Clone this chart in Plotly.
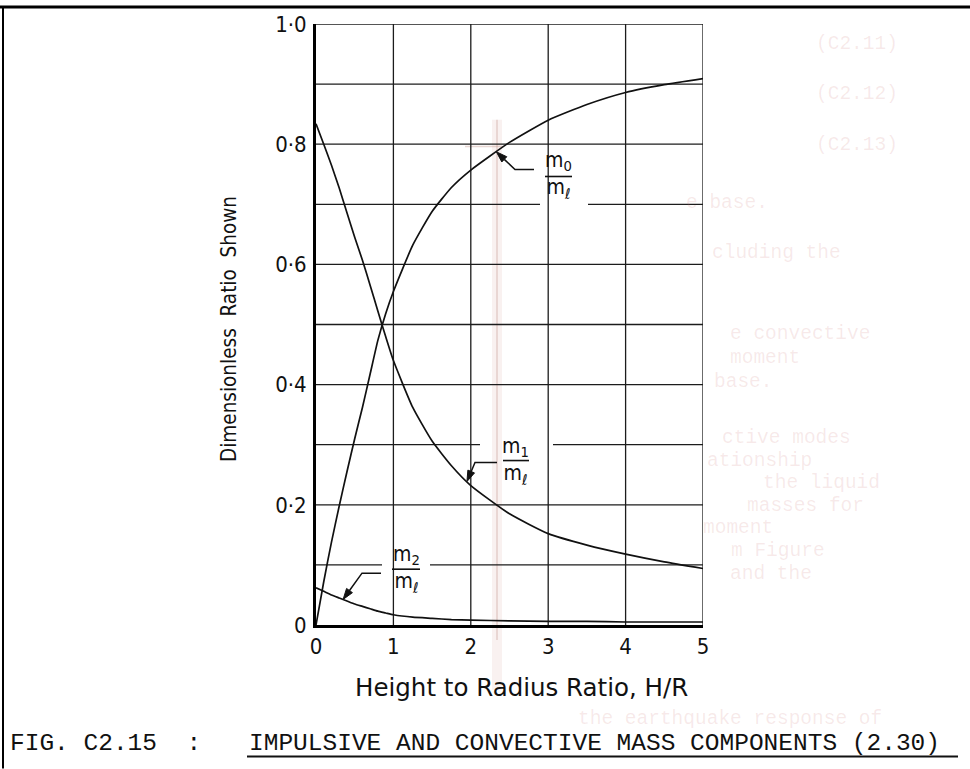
import numpy as np
import plotly.graph_objects as go

# Height-to-radius ratio H/R
hr = [0, 0.1, 0.2, 0.3, 0.4, 0.5, 0.6, 0.7, 0.8, 0.9, 1.0,
      1.25, 1.5, 1.75, 2.0, 2.5, 3.0, 3.5, 4.0, 4.5, 5.0]

# Impulsive mass ratio m0/ml
m0_ratio = [0.0, 0.072, 0.138, 0.198, 0.255, 0.31, 0.362, 0.418, 0.474, 0.518, 0.555,
            0.632, 0.688, 0.728, 0.757, 0.803, 0.840, 0.866, 0.886, 0.899, 0.909]

# First convective mass ratio m1/ml
m1_ratio = [0.834, 0.80, 0.765, 0.727, 0.686, 0.645, 0.607, 0.565, 0.522, 0.48, 0.44,
            0.362, 0.306, 0.265, 0.232, 0.185, 0.152, 0.133, 0.118, 0.105, 0.094]

# Second convective mass ratio m2/ml
m2_ratio = [0.062, 0.056, 0.050, 0.045, 0.040, 0.035, 0.031, 0.027, 0.023, 0.020, 0.017,
            0.013, 0.011, 0.009, 0.008, 0.007, 0.006, 0.006, 0.005, 0.005, 0.005]

y_tick_vals = [0, 0.2, 0.4, 0.6, 0.8, 1.0]
y_tick_text = ["0", "0·2", "0·4", "0·6", "0·8", "1·0"]
x_tick_vals = [0, 1, 2, 3, 4, 5]
x_tick_text = ["0", "1", "2", "3", "4", "5"]

W, H = 970, 769
L, R, T, B = 316, 703, 22, 625
X_MAX, Y_MAX = 5.0, 1.0


def fx(p):
    """page pixel column -> paper x"""
    return (p - L) / (R - L)


def fy(p):
    """page pixel row -> paper y"""
    return (B - p) / (B - T)


def data_px(x, y):
    return L + x / X_MAX * (R - L), B - y / Y_MAX * (B - T)


COND_FONT = "DejaVu Sans Condensed, DejaVu Sans, sans-serif"
PLOT_FONT = "DejaVu Sans, sans-serif"
TYPE_FONT = "Liberation Mono, Courier New, monospace"
INK = "#111111"

fig = go.Figure()

for vals in (m0_ratio, m1_ratio, m2_ratio):
    fig.add_trace(go.Scatter(x=hr, y=vals, mode="lines",
                             line=dict(color=INK, width=1.7, shape="spline", smoothing=0.5),
                             hoverinfo="skip", showlegend=False))

shapes = []
annotations = []

# faint show-through of the facing page (right margin and foot)
bleed = [
    (900, 42, "(C2.11)"), (900, 92, "(C2.12)"), (900, 143, "(C2.13)"),
    (770, 202, "e base."),
    (843, 252, "cluding the"),
    (872, 333, "e convective"),
    (802, 357, "moment"),
    (775, 381, "base."),
    (853, 437, "ctive modes"),
    (814, 460, "ationship"),
    (882, 483, "the liquid"),
    (866, 506, "masses for"),
    (775, 528, "moment"),
    (827, 551, "m Figure"),
    (814, 574, "and the"),
    (884, 719, "the earthquake response of"),
]
for bx, by, txt in bleed:
    annotations.append(dict(x=fx(bx), y=fy(by), xref="paper", yref="paper",
                            xanchor="right", yanchor="middle", showarrow=False,
                            text=txt, font=dict(family=TYPE_FONT, size=19.5,
                                                color="rgba(205,120,120,0.16)")))

# pencil mark and tint band near H/R = 2.45
shapes.append(dict(type="line", xref="paper", yref="paper", layer="below",
                   x0=fx(497), x1=fx(497), y0=fy(118), y1=fy(690),
                   line=dict(color="rgba(235,205,200,0.28)", width=10)))
shapes.append(dict(type="line", xref="paper", yref="paper", layer="below",
                   x0=fx(497), x1=fx(497), y0=fy(118), y1=fy(640),
                   line=dict(color="rgba(190,140,130,0.35)", width=1.5)))
shapes.append(dict(type="line", xref="paper", yref="paper", layer="below",
                   x0=fx(465), x1=fx(503), y0=fy(145), y1=fy(145),
                   line=dict(color="rgba(190,140,130,0.35)", width=1.5)))

# grid: vertical lines at each H/R unit, horizontal every 0.1
GRID = dict(color="#1c1c1c", width=1.3)
for gx in x_tick_vals[1:]:
    shapes.append(dict(type="line", xref="x", yref="paper", layer="below",
                       x0=gx, x1=gx, y0=0, y1=1, line=GRID))

grid_gaps = {7: (540, 588), 3: (480, 553), 1: (382, 430)}
for k in range(1, 11):
    gy = k / 10
    if k in grid_gaps:
        a, b = grid_gaps[k]
        segs = [(0, fx(a)), (fx(b), 1)]
    else:
        segs = [(0, 1)]
    for s0, s1 in segs:
        shapes.append(dict(type="line", xref="paper", yref="y", layer="below",
                           x0=s0, x1=s1, y0=gy, y1=gy, line=GRID))

# curve labels: leader with arrowhead, stacked fraction m_i / m_l
labels = [
    # (curve, H/R at pointer, elbow px, leader end px, numerator, label centre, bar span, bar y)
    (m0_ratio, 2.33, (515, 168), 534, "m<sub>0</sub>", (558, 174), (545, 572), 175),
    (m1_ratio, 1.95, (475, 462), 497, "m<sub>1</sub>", (515, 460), (503, 529), 460),
    (m2_ratio, 0.35, (362, 573), 381, "m<sub>2</sub>", (406, 569), (392, 420), 569),
]
for arr, tx, (ex, ey), lend, num, (cx, cy), (b0, b1), bar_y in labels:
    ty = float(np.interp(tx, hr, arr))
    tpx, tpy = data_px(tx, ty)
    d = np.array([tpx - ex, tpy - ey], dtype=float)
    d /= np.hypot(*d)
    nrm = np.array([-d[1], d[0]])
    tip = np.array([tpx, tpy])
    base = tip - d * 11
    p1 = base + nrm * 3.6
    p2 = base - nrm * 3.6
    head = "M {:.5f} {:.5f} L {:.5f} {:.5f} L {:.5f} {:.5f} Z".format(
        fx(tip[0]), fy(tip[1]), fx(p1[0]), fy(p1[1]), fx(p2[0]), fy(p2[1]))
    shapes.append(dict(type="path", xref="paper", yref="paper", path=head,
                       fillcolor=INK, line=dict(color=INK, width=1)))
    leader = "M {:.5f} {:.5f} L {:.5f} {:.5f} L {:.5f} {:.5f}".format(
        fx(base[0]), fy(base[1]), fx(ex), fy(ey), fx(lend), fy(ey))
    shapes.append(dict(type="path", xref="paper", yref="paper", path=leader,
                       line=dict(color=INK, width=1.5)))
    shapes.append(dict(type="line", xref="paper", yref="paper",
                       x0=fx(b0), x1=fx(b1), y0=fy(bar_y), y1=fy(bar_y),
                       line=dict(color=INK, width=1.6)))
    annotations.append(dict(x=fx(cx), y=fy(cy), xref="paper", yref="paper",
                            xanchor="center", yanchor="middle", showarrow=False,
                            text=num + "<br>m<sub>ℓ</sub>",
                            font=dict(family=COND_FONT, size=21, color=INK)))

# axis titles
annotations.append(dict(x=fx(521), y=fy(688), xref="paper", yref="paper",
                        xanchor="center", yanchor="middle", showarrow=False,
                        text="Height to Radius Ratio, H/R",
                        font=dict(family=PLOT_FONT, size=24.5, color=INK)))
annotations.append(dict(x=fx(229), y=fy(328), xref="paper", yref="paper",
                        xanchor="center", yanchor="middle", showarrow=False,
                        textangle=-90, text="Dimensionless  Ratio  Shown",
                        font=dict(family=COND_FONT, size=20.5, color=INK)))

# figure caption
annotations.append(dict(x=fx(8), y=fy(744), xref="paper", yref="paper",
                        xanchor="left", yanchor="middle", showarrow=False,
                        text="FIG. C2.15  :",
                        font=dict(family=TYPE_FONT, size=24.5, color=INK)))
annotations.append(dict(x=fx(247), y=fy(744), xref="paper", yref="paper",
                        xanchor="left", yanchor="middle", showarrow=False,
                        text="IMPULSIVE AND CONVECTIVE MASS COMPONENTS (2.30)",
                        font=dict(family=TYPE_FONT, size=24.5, color=INK)))
shapes.append(dict(type="line", xref="paper", yref="paper",
                   x0=fx(247), x1=fx(958), y0=fy(757), y1=fy(757),
                   line=dict(color=INK, width=2)))

# page rules: top and left edge
shapes.append(dict(type="line", xref="paper", yref="paper",
                   x0=fx(0), x1=fx(W), y0=fy(5), y1=fy(5),
                   line=dict(color="black", width=3)))
shapes.append(dict(type="line", xref="paper", yref="paper",
                   x0=fx(3), x1=fx(3), y0=fy(4), y1=fy(H),
                   line=dict(color="black", width=2)))

axis_common = dict(showgrid=False, zeroline=False, showline=True,
                   linecolor="black", linewidth=3, ticks="",
                   tickfont=dict(family=COND_FONT, size=22, color=INK))

fig.update_layout(
    width=W, height=H, autosize=False,
    margin=dict(l=L, r=W - R, t=T, b=H - B, pad=0),
    paper_bgcolor="white", plot_bgcolor="white",
    xaxis=dict(range=[0, X_MAX], tickvals=x_tick_vals, ticktext=x_tick_text,
               ticklabelstandoff=0, **axis_common),
    yaxis=dict(range=[0, Y_MAX], tickvals=y_tick_vals, ticktext=y_tick_text,
               ticklabelstandoff=2, **axis_common),
    shapes=shapes,
    annotations=annotations,
    showlegend=False,
)

fig.write_html("out.html")
